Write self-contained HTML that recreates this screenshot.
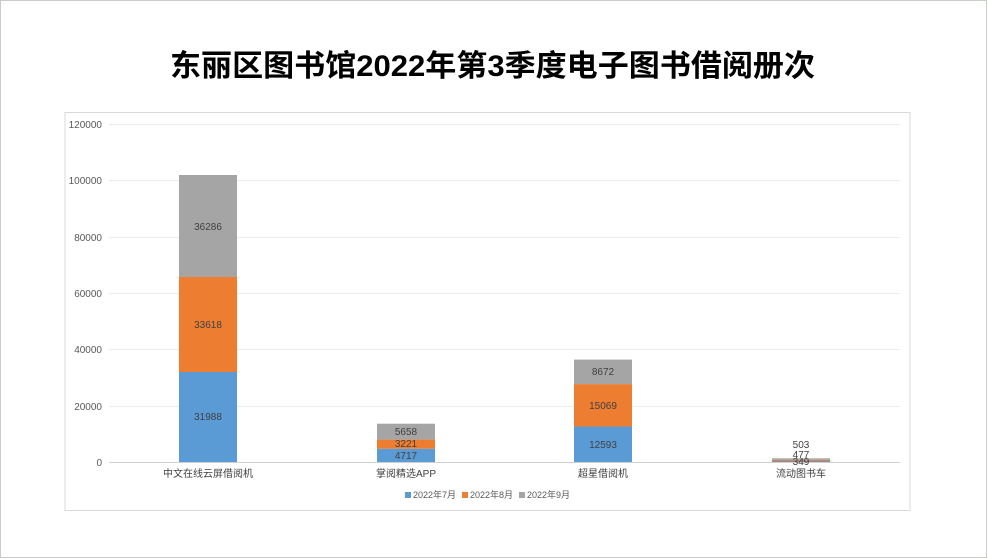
<!DOCTYPE html>
<html><head><meta charset="utf-8"><style>
body{margin:0;background:#fff;}
svg{display:block;font-family:"Liberation Sans","Noto Sans CJK SC",sans-serif;}
</style></head><body>
<svg width="988" height="559" viewBox="0 0 988 559">
<rect x="0.5" y="0.5" width="986" height="557" fill="#fff" stroke="#c8cdc8"/>
<text x="170" y="76" textLength="645" lengthAdjust="spacingAndGlyphs" font-size="30" font-weight="bold" fill="#000" font-family="'Liberation Sans','Noto Sans CJK SC',sans-serif">东丽区图书馆2022年第3季度电子图书借阅册次</text>
<rect x="65" y="112.5" width="845" height="398" fill="#fff" stroke="#d9d9d9"/>
<g stroke="#ececec" stroke-width="1">
<line x1="109" x2="900" y1="124.5" y2="124.5"/>
<line x1="109" x2="900" y1="180.5" y2="180.5"/>
<line x1="109" x2="900" y1="237.5" y2="237.5"/>
<line x1="109" x2="900" y1="293.5" y2="293.5"/>
<line x1="109" x2="900" y1="349.5" y2="349.5"/>
<line x1="109" x2="900" y1="406.5" y2="406.5"/>
</g>
<line x1="109" x2="900" y1="462.5" y2="462.5" stroke="#d0d0d0"/>
<g font-size="10" fill="#595959" text-anchor="end">
<text x="102" y="128">120000</text>
<text x="102" y="184">100000</text>
<text x="102" y="241">80000</text>
<text x="102" y="297">60000</text>
<text x="102" y="353">40000</text>
<text x="102" y="410">20000</text>
<text x="102" y="466">0</text>
</g>
<rect x="179" y="372" width="58" height="90" fill="#5b9bd5"/>
<rect x="179" y="277" width="58" height="95" fill="#ed7d31"/>
<rect x="179" y="175" width="58" height="102" fill="#a5a5a5"/>
<rect x="377" y="448.7" width="58" height="13.3" fill="#5b9bd5"/>
<rect x="377" y="439.6" width="58" height="9.1" fill="#ed7d31"/>
<rect x="377" y="423.7" width="58" height="15.9" fill="#a5a5a5"/>
<rect x="574" y="426.5" width="58" height="35.5" fill="#5b9bd5"/>
<rect x="574" y="384.1" width="58" height="42.4" fill="#ed7d31"/>
<rect x="574" y="359.6" width="58" height="24.5" fill="#a5a5a5"/>
<rect x="772" y="461" width="58" height="1" fill="#5b9bd5"/>
<rect x="772" y="459.7" width="58" height="1.3" fill="#ed7d31"/>
<rect x="772" y="458.3" width="58" height="1.4" fill="#a5a5a5"/>
<g font-size="10" fill="#404040" text-anchor="middle">
<text x="208" y="420">31988</text>
<text x="208" y="328">33618</text>
<text x="208" y="230">36286</text>
<text x="406" y="459">4717</text>
<text x="406" y="447">3221</text>
<text x="406" y="435">5658</text>
<text x="603" y="448">12593</text>
<text x="603" y="409">15069</text>
<text x="603" y="375">8672</text>
<text x="801" y="465">349</text>
<text x="801" y="458">477</text>
<text x="801" y="448">503</text>
</g>
<g font-size="10" fill="#404040" text-anchor="middle">
<text x="208" y="477">中文在线云屏借阅机</text>
<text x="406" y="477">掌阅精选APP</text>
<text x="603" y="477">超星借阅机</text>
<text x="801" y="477">流动图书车</text>
</g>
<g font-size="9" fill="#595959">
<rect x="405" y="492" width="6" height="6" fill="#5b9bd5"/><text x="413" y="498">2022年7月</text>
<rect x="462" y="492" width="6" height="6" fill="#ed7d31"/><text x="470" y="498">2022年8月</text>
<rect x="519" y="492" width="6" height="6" fill="#a5a5a5"/><text x="527" y="498">2022年9月</text>
</g>
</svg>
</body></html>
